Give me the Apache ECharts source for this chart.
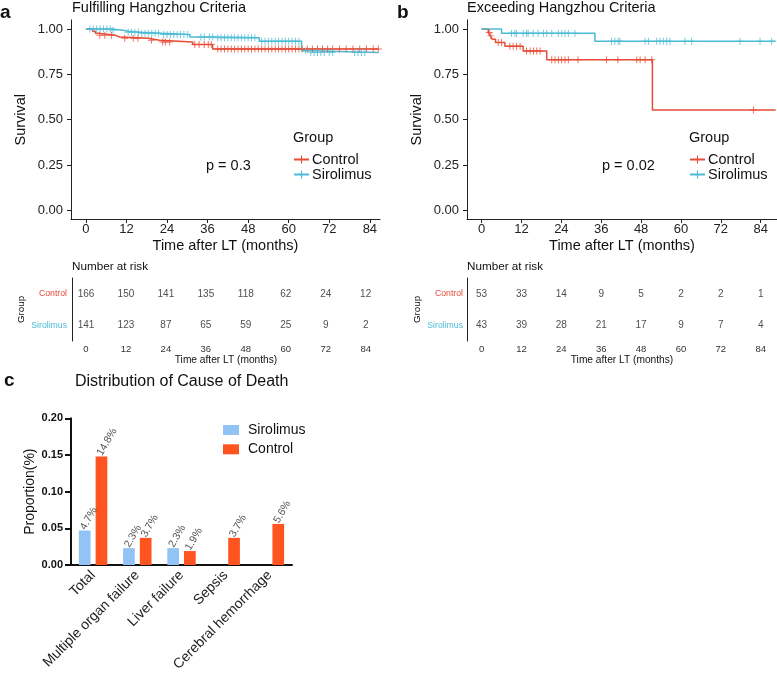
<!DOCTYPE html>
<html>
<head>
<meta charset="utf-8">
<script src="https://cdn.jsdelivr.net/npm/echarts@6/dist/echarts.min.js"></script>
<style>
html, body { margin: 0; padding: 0; background: #fff; }
#main { width: 777px; height: 678px; }
</style>
</head>
<body>
<div id="main"></div>
<script>
var RED = '#E64B35', CYAN = '#4DBBD5';
var BAR_BLUE = '#92c3f6', BAR_RED = '#ff5320';
var FONT = '"Liberation Sans", Arial, sans-serif';
var PLUS = 'path://M4.3,0H5.7V4.3H10V5.7H5.7V10H4.3V5.7H0V4.3H4.3Z';

var months = [0, 12, 24, 36, 48, 60, 72, 84];
var survTicks = [0, 0.25, 0.5, 0.75, 1];
var groups = ['Sirolimus', 'Control'];

// a: Fulfilling Hangzhou Criteria (event times / survival after each step)
var aCtrlTime = [0, 2, 2.8, 3.6, 8.6, 10, 18.4, 21.8, 31.6, 37.5];
var aCtrlSurv = [1, 0.988, 0.976, 0.966, 0.956, 0.949, 0.938, 0.928, 0.914, 0.89];
var aCtrlCens = [4.1, 5.6, 7.6, 11.5, 14, 15.4, 19.4, 22.7, 23.5, 24.8, 32.2, 33.5, 35, 36.2, 37.1,
  39, 40, 41, 42, 43, 44, 45, 46, 47, 48, 49, 50, 51, 52, 53, 54, 55, 56, 57, 58, 59, 60, 61, 62, 63, 64,
  65.5, 67, 68.5, 70, 71.5, 73, 75, 77, 79, 81, 83, 85, 86.5];
var aSiroTime = [0, 7.6, 11, 12.5, 16, 22.3, 30.7, 38, 51.3, 63.8, 66];
var aSiroSurv = [1, 0.993, 0.987, 0.982, 0.976, 0.969, 0.956, 0.951, 0.932, 0.88, 0.871];
var aSiroCens = [1.2, 2.2, 3.2, 4.2, 5.2, 6.2, 7.2, 8, 12.5, 13.5, 14.5, 15.5, 16.5, 17.5, 18.5, 19.5,
  20.5, 21.5, 23, 24, 25, 26, 27, 28, 29, 30, 34, 35, 36.5, 37.5, 39, 40, 41, 42, 43, 44, 45, 46, 47, 48,
  49, 50, 52, 53, 54, 55, 56, 57, 58, 59, 60, 61, 62, 63, 65, 66.5, 67.5, 68.5, 69.5, 70.5, 72, 73,
  79.5, 80.5, 81.5, 82.5];

// b: Exceeding Hangzhou Criteria
var bCtrlTime = [0, 2, 2.6, 3.2, 4.2, 7, 12.5, 19.6, 51.4];
var bCtrlSurv = [1, 0.981, 0.962, 0.944, 0.925, 0.905, 0.878, 0.83, 0.554];
var bCtrlCens = [2.3, 2.8, 5, 6, 8.5, 9.5, 10.5, 11.6, 13.5, 14.6, 15.6, 16.6, 17.6, 21.1, 22.1, 23.1,
  24.1, 25.1, 26.1, 29, 37.6, 41, 46.7, 47.7, 49.2, 51.2, 81.8];
var bSiroTime = [0, 6, 34.1];
var bSiroSurv = [1, 0.977, 0.932];
var bSiroCens = [9, 10, 10.5, 12.5, 13.5, 14, 15.5, 17, 18.6, 19.6, 21.1, 23.1, 24.1, 25.1, 26.1, 28.1,
  39.1, 40.1, 41.1, 41.6, 49.2, 50.2, 52.7, 53.7, 54.7, 55.7, 56.7, 61.2, 63.2, 77.8, 83.8, 87.3];

// number at risk
var aRiskCtrl = [166, 150, 141, 135, 118, 62, 24, 12];
var aRiskSiro = [141, 123, 87, 65, 59, 25, 9, 2];
var bRiskCtrl = [53, 33, 14, 9, 5, 2, 2, 1];
var bRiskSiro = [43, 39, 28, 21, 17, 9, 7, 4];

// c: cause of death
var causes = ['Total', 'Multiple organ failure', 'Liver failure', 'Sepsis', 'Cerebral hemorrhage'];
var deathSiro = [0.047, 0.023, 0.023, 0, 0];
var deathCtrl = [0.148, 0.037, 0.019, 0.037, 0.056];

function steps(times, surv, end) {
    var pts = times.map(function (t, i) { return [t, surv[i]]; });
    pts.push([end, surv[surv.length - 1]]);
    return pts;
}
function survAt(times, surv, t) {
    var s = surv[0];
    for (var i = 0; i < times.length; i++) if (times[i] <= t) s = surv[i];
    return s;
}
function marks(times, surv, cens) {
    return cens.map(function (t) { return [t, survAt(times, surv, t)]; });
}
function riskRow(counts, g) {
    return months.map(function (m, i) { return [m, g, counts[i]]; });
}

var axisCol = '#222';
function kmX(grid, min, max) {
    return {
        type: 'value', gridIndex: grid, min: min, max: max,
        name: 'Time after LT (months)', nameLocation: 'middle', nameGap: 19,
        nameTextStyle: { fontSize: 14.5, color: '#111' },
        axisLine: { onZero: false, lineStyle: { color: axisCol, width: 1 } },
        axisTick: { length: 3.5, customValues: months, lineStyle: { color: axisCol } },
        axisLabel: { customValues: months, fontSize: 13, color: '#222', margin: 3 },
        splitLine: { show: false }
    };
}
function kmY(grid) {
    return {
        type: 'value', gridIndex: grid, min: -0.05, max: 1.05,
        name: 'Survival', nameLocation: 'middle', nameGap: 43,
        nameTextStyle: { fontSize: 14.5, color: '#111' },
        axisLine: { show: true, onZero: false, lineStyle: { color: axisCol, width: 1 } },
        axisTick: { show: true, length: 4, customValues: survTicks, lineStyle: { color: axisCol } },
        axisLabel: { customValues: survTicks, fontSize: 13, color: '#222', margin: 8,
            formatter: function (v) { return v.toFixed(2); } },
        splitLine: { show: false }
    };
}
function riskX(grid, min, max) {
    return {
        type: 'value', gridIndex: grid, min: min, max: max,
        name: 'Time after LT (months)', nameLocation: 'middle', nameGap: 13,
        nameTextStyle: { fontSize: 10.2, color: '#111' },
        axisLine: { onZero: false, lineStyle: { color: axisCol, width: 1 } },
        axisTick: { length: 3, customValues: months, lineStyle: { color: axisCol } },
        axisLabel: { customValues: months, fontSize: 9.5, color: '#333', margin: 3 },
        splitLine: { show: false }
    };
}
function riskY(grid, gap, margin) {
    return {
        type: 'category', gridIndex: grid, data: groups,
        name: 'Group', nameLocation: 'middle', nameGap: gap,
        nameTextStyle: { fontSize: 9.8, color: '#111' },
        axisLine: { onZero: false, lineStyle: { color: axisCol, width: 1 } },
        axisTick: { alignWithLabel: true, length: 3, lineStyle: { color: axisCol } },
        axisLabel: { fontSize: 8.7, margin: margin,
            color: function (v) { return v === 'Control' ? RED : CYAN; } }
    };
}
function kmLine(name, color, ax, data) {
    return {
        name: name, type: 'line', xAxisIndex: ax, yAxisIndex: ax, step: 'end',
        symbol: PLUS, showSymbol: false, silent: true, animation: false,
        lineStyle: { color: color, width: 1.5 }, itemStyle: { color: color, borderWidth: 0 },
        data: data
    };
}
function censor(color, ax, data) {
    return {
        type: 'scatter', xAxisIndex: ax, yAxisIndex: ax, symbol: PLUS, symbolSize: 7,
        itemStyle: { color: color }, silent: true, animation: false, z: 3, data: data
    };
}
function riskSeries(ax, data) {
    return {
        type: 'scatter', xAxisIndex: ax, yAxisIndex: ax, symbolSize: 1,
        itemStyle: { color: 'transparent' }, silent: true, animation: false,
        label: { show: true, position: 'inside', fontSize: 10, color: '#222',
            formatter: function (p) { return p.value[2]; } },
        data: data
    };
}
function barSeries(name, color, data) {
    return {
        name: name, type: 'bar', xAxisIndex: 4, yAxisIndex: 4,
        barWidth: 11.7, barGap: '43%', itemStyle: { color: color }, animation: false,
        label: { show: true, position: 'top', distance: 5, rotate: 60, align: 'left',
            verticalAlign: 'middle', fontSize: 10.5, color: '#555', offset: [-4, 0],
            formatter: function (p) { return p.value ? (p.value * 100).toFixed(1) + '%' : ''; } },
        data: data
    };
}
function kmLegend(left) {
    return {
        data: ['Control', 'Sirolimus'], left: left, top: 152, orient: 'vertical',
        itemWidth: 15, itemHeight: 10, itemGap: 0, padding: 0, selectedMode: false,
        textStyle: { fontSize: 14.5, color: '#111', padding: [0, 0, 0, -2] }
    };
}
function txt(x, y, s, size, weight) {
    return { type: 'text', x: x, y: y, silent: true,
        style: { text: s, fontSize: size, fontWeight: weight || 'normal', fontFamily: FONT,
            fill: '#111', verticalAlign: 'middle' } };
}

var chart = echarts.init(document.getElementById('main'));
chart.setOption({
    animation: false,
    textStyle: { fontFamily: FONT },
    title: [
        { text: 'Fulfilling Hangzhou Criteria', left: 72, top: 0, padding: 0,
          textStyle: { fontSize: 14.5, fontWeight: 'normal', color: '#111' } },
        { text: 'Exceeding Hangzhou Criteria', left: 467, top: 0, padding: 0,
          textStyle: { fontSize: 14.5, fontWeight: 'normal', color: '#111' } },
        { text: 'Number at risk', left: 72, top: 261, padding: 0,
          textStyle: { fontSize: 11.7, fontWeight: 'normal', color: '#111' } },
        { text: 'Number at risk', left: 467, top: 261, padding: 0,
          textStyle: { fontSize: 11.7, fontWeight: 'normal', color: '#111' } },
        { text: 'Distribution of Cause of Death', left: 75, top: 374, padding: 0,
          textStyle: { fontSize: 16, fontWeight: 'normal', color: '#111' } }
    ],
    grid: [
        { left: 71, top: 19.9, width: 309, height: 199.6 },
        { left: 467, top: 19.9, width: 310, height: 199.6 },
        { left: 72, top: 278, width: 308, height: 63 },
        { left: 467, top: 278, width: 310, height: 63 },
        { left: 71, top: 418.3, width: 221, height: 146.7 }
    ],
    xAxis: [
        kmX(0, -4.4, 87), kmX(1, -4.4, 88.9), riskX(2, -4.2, 88.3), riskX(3, -4.4, 88.9),
        {
            type: 'category', gridIndex: 4, data: causes,
            axisLine: { lineStyle: { color: '#111', width: 2 } },
            axisTick: { alignWithLabel: true, length: 5, lineStyle: { color: '#111', width: 2 } },
            axisLabel: { rotate: 45, interval: 0, fontSize: 14, color: '#222', margin: 8 }
        }
    ],
    yAxis: [
        kmY(0), kmY(1), riskY(2, 46, 5), riskY(3, 44.5, 4),
        {
            type: 'value', gridIndex: 4, min: 0, max: 0.2, interval: 0.05,
            name: 'Proportion(%)', nameLocation: 'middle', nameGap: 34,
            nameTextStyle: { fontSize: 14, color: '#111' },
            axisLine: { show: true, lineStyle: { color: '#111', width: 2 } },
            axisTick: { show: true, length: 6, lineStyle: { color: '#111', width: 2 } },
            axisLabel: { fontSize: 11, fontWeight: 'bold', color: '#111', margin: 8,
                formatter: function (v) { return v.toFixed(2); } },
            splitLine: { show: false }
        }
    ],
    legend: [
        kmLegend(293),
        kmLegend(689),
        {
            data: [
                { name: 'Sirolimus', icon: 'rect', itemStyle: { color: BAR_BLUE } },
                { name: 'Control', icon: 'rect', itemStyle: { color: BAR_RED } }
            ],
            left: 223, top: 423, orient: 'vertical', itemWidth: 16, itemHeight: 10, itemGap: 5.3,
            padding: 0, selectedMode: false, textStyle: { fontSize: 14, color: '#111', padding: [0, 0, 0, 4] }
        }
    ],
    graphic: [
        txt(0, 13, 'a', 19, 'bold'),
        txt(397, 13, 'b', 19, 'bold'),
        txt(4, 381, 'c', 19, 'bold'),
        txt(293, 138, 'Group', 14.5),
        txt(689, 138, 'Group', 14.5),
        txt(206, 166, 'p = 0.3', 14.5),
        txt(602, 166, 'p = 0.02', 14.5)
    ],
    series: [
        kmLine('Control', RED, 0, steps(aCtrlTime, aCtrlSurv, 86.5)),
        kmLine('Sirolimus', CYAN, 0, steps(aSiroTime, aSiroSurv, 86.5)),
        censor(RED, 0, marks(aCtrlTime, aCtrlSurv, aCtrlCens)),
        censor(CYAN, 0, marks(aSiroTime, aSiroSurv, aSiroCens)),
        kmLine('Control', RED, 1, steps(bCtrlTime, bCtrlSurv, 88.5)),
        kmLine('Sirolimus', CYAN, 1, steps(bSiroTime, bSiroSurv, 88.5)),
        censor(RED, 1, marks(bCtrlTime, bCtrlSurv, bCtrlCens)),
        censor(CYAN, 1, marks(bSiroTime, bSiroSurv, bSiroCens)),
        riskSeries(2, riskRow(aRiskCtrl, 'Control').concat(riskRow(aRiskSiro, 'Sirolimus'))),
        riskSeries(3, riskRow(bRiskCtrl, 'Control').concat(riskRow(bRiskSiro, 'Sirolimus'))),
        barSeries('Sirolimus', BAR_BLUE, deathSiro),
        barSeries('Control', BAR_RED, deathCtrl)
    ]
});
</script>
</body>
</html>
